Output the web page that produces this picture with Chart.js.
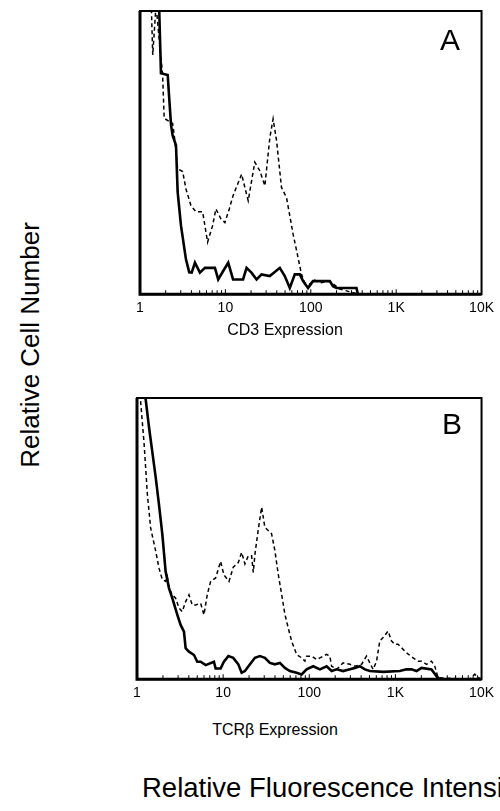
<!DOCTYPE html>
<html>
<head>
<meta charset="utf-8">
<script src="https://cdn.jsdelivr.net/npm/chart.js@4.4.0/dist/chart.umd.min.js"></script>
<style>
  body { margin: 0; width: 500px; height: 811px; background: #fff; position: relative; overflow: hidden;
         font-family: "Liberation Sans", Arial, sans-serif; color: #000; }
  .box { position: absolute; }
  .lbl { position: absolute; white-space: nowrap; }
  .panel { position: absolute; font-size: 30px; line-height: 30px; }
</style>
</head>
<body>

<div class="box" style="left:110px; top:0px; width:390px; height:328px;"><canvas id="chartA"></canvas></div>
<div class="box" style="left:110px; top:385px; width:390px; height:328px;"><canvas id="chartB"></canvas></div>

<div class="panel" style="left:440px; top:25px;">A</div>
<div class="panel" style="left:442px; top:409px;">B</div>

<div class="lbl" style="left:185px; width:200px; text-align:center; top:321px; font-size:16px;">CD3 Expression</div>
<div class="lbl" style="left:175px; width:200px; text-align:center; top:721px; font-size:16px;">TCRβ Expression</div>
<div class="lbl" style="left:-100px; width:260px; text-align:center; top:330px; font-size:26px; line-height:30px; transform:rotate(-90deg);">Relative Cell Number</div>
<div class="lbl" style="left:142px; top:773px; font-size:27.5px; line-height:30px;">Relative Fluorescence Intensity</div>

<script>
// x axis labels (log scale, one per decade)
const tickValues = [1, 10, 100, 1000, 10000];
const tickLabels = ['1', '10', '100', '1K', '10K'];

// Panel A - CD3, solid = control, dashed = stained
const cd3CtrlX = [1.0, 1.5, 1.68, 1.76, 2.11, 2.20, 2.31, 2.41, 2.64, 2.76, 3.02, 3.45, 3.77, 4.03, 4.40,
  5.03, 5.76, 7.54, 8.24, 9.42, 10.8, 12.3, 16.1, 17.7, 20.2, 23.2, 26.5, 33.1, 43.4, 49.6,
  56.8, 65.0, 74.3, 81.3, 92.9, 106, 167, 182, 200, 343, 357, 10000];
const cd3CtrlY = [105, 103, 100, 78.0, 77.4, 69.1, 59.7, 56.1, 52.6, 36.1, 24.2, 12.4, 7.7, 7.6, 11.1,
  7.6, 9.3, 9.3, 5.2, 8.2, 11.1, 5.2, 5.2, 9.3, 7.6, 5.2, 7.0, 6.4, 9.3, 6.4,
  2.2, 7.0, 7.0, 4.6, 2.2, 4.6, 4.6, 2.8, 2.2, 2.2, 0, 0];
const cd3X = [1.0, 1.35, 1.41, 1.54, 1.84, 1.92, 2.41, 2.52, 2.76, 3.16, 3.45, 3.95, 4.52, 5.41, 6.19,
  7.08, 7.74, 8.86, 9.87, 11.1, 12.3, 15.5, 16.9, 18.5, 22.1, 25.3, 29.0, 33.2, 36.2, 39.7,
  45.4, 52.0, 62.1, 71.0, 77.8, 85.1, 97, 111, 130, 167, 218, 370, 10000];
const cd3Y = [105, 104, 84.5, 102, 77.4, 62.1, 60.3, 56.1, 44.3, 43.3, 37.2, 31.3, 29.1, 29.1, 18.4,
  24.2, 30.1, 26.6, 25.3, 30.1, 34.8, 42.4, 37.7, 33.0, 46.6, 43.6, 38.3, 55.4, 61.9, 54.3,
  37.7, 34.1, 21.2, 12.9, 7.0, 4.0, 3.5, 5.0, 4.0, 4.6, 1.8, 0, 0];

// Panel B - TCRb
const tcrCtrlX = [1.0, 1.08, 1.26, 1.38, 1.50, 1.65, 1.80, 1.97, 2.15, 2.35, 2.57, 2.94, 3.21, 3.51, 3.67,
  4.01, 4.59, 5.01, 5.48, 6.27, 7.82, 8.18, 9.35, 10.2, 11.5, 13.1, 15.0, 16.4, 17.9, 20.5,
  23.4, 26.7, 30.5, 34.9, 39.9, 45.6, 52.1, 59.6, 71.3, 81.5, 93.1, 111, 133, 159, 182,
  208, 247, 296, 338, 386, 442, 505, 720, 1125, 1346, 1538, 1758, 2009, 2624, 2999, 3273, 10000];
const tcrCtrlY = [105, 103, 99.6, 89.5, 81.2, 71.7, 62.1, 51.4, 38.3, 32.4, 28.8, 22.9, 19.3, 16.9, 11.0,
  9.8, 8.6, 6.2, 6.2, 5.0, 6.2, 3.8, 3.8, 6.2, 8.2, 7.6, 5.3, 2.3, 2.9, 5.3,
  7.6, 8.2, 7.6, 5.8, 5.3, 5.8, 4.0, 2.9, 2.3, 1.7, 3.5, 4.6, 3.5, 4.6, 2.9,
  3.5, 2.9, 3.5, 4.0, 4.6, 3.5, 2.9, 2.6, 2.9, 3.5, 3.5, 2.9, 4.0, 3.5, 1.1, 0, 0];
const tcrX = [1.0, 1.10, 1.21, 1.32, 1.44, 1.65, 1.80, 1.97, 2.15, 2.25, 2.35, 2.57, 2.81, 3.07, 3.35,
  3.67, 4.01, 4.38, 4.80, 5.48, 5.99, 6.54, 7.16, 8.18, 9.35, 10.2, 11.7, 13.1, 15.0, 16.4,
  17.9, 19.6, 21.4, 22.4, 23.4, 25.5, 28.0, 30.5, 33.4, 36.5, 39.9, 43.6, 47.7, 52.1, 56.9,
  62.3, 71.3, 81.5, 88.9, 93.1, 106, 122, 133, 159, 173, 182, 208, 247, 296, 338,
  405, 462, 505, 551, 604, 659, 720, 823, 901, 984, 1075, 1177, 1346, 1604, 1833,
  2009, 2295, 2624, 2866, 3129, 7300, 8340, 9000, 10000];
const tcrY = [101, 99.0, 83.6, 65.7, 53.8, 45.5, 39.5, 35.4, 34.8, 36.5, 32.4, 30.0, 28.8, 25.3, 24.0,
  27.6, 30.0, 26.4, 26.4, 27.0, 22.9, 30.0, 34.8, 36.0, 41.9, 37.1, 34.8, 39.8, 41.5, 45.1,
  41.0, 43.9, 43.9, 38.0, 44.5, 52.9, 61.2, 54.0, 52.9, 51.7, 45.7, 37.4, 30.3, 23.1, 18.3,
  13.6, 8.8, 7.6, 6.4, 8.2, 8.2, 7.0, 7.6, 8.8, 8.2, 4.6, 3.5, 5.8, 5.3, 4.6,
  5.3, 8.2, 5.8, 3.5, 6.4, 13.6, 14.8, 17.1, 13.6, 12.4, 12.4, 11.2, 9.4, 7.6, 6.4,
  6.4, 5.3, 6.4, 4.6, 0.5, 0, 1.8, 0.7, 0];

Chart.defaults.font.family = '"Liberation Sans", Arial, sans-serif';
Chart.defaults.color = '#000';

function pts(xs, ys) {
  return xs.map((x, i) => ({ x: x, y: ys[i] }));
}

// box around the plot + small tick marks along the bottom
const framePlugin = {
  id: 'frame',
  afterDraw(chart) {
    const ctx = chart.ctx;
    const a = chart.chartArea;
    const x = chart.scales.x;
    ctx.save();
    ctx.strokeStyle = '#000';
    ctx.lineWidth = 1;
    x.ticks.forEach(t => {
      const px = x.getPixelForValue(t.value);
      const len = tickValues.includes(t.value) ? 5 : 4;
      ctx.beginPath();
      ctx.moveTo(px, a.bottom);
      ctx.lineTo(px, a.bottom - len);
      ctx.stroke();
    });
    ctx.lineWidth = 2;
    ctx.strokeRect(a.left, a.top, a.right - a.left, a.bottom - a.top);
    ctx.lineWidth = 3;
    ctx.beginPath();
    ctx.moveTo(a.left, a.top);
    ctx.lineTo(a.left, a.bottom);
    ctx.lineTo(a.right, a.bottom);
    ctx.stroke();
    ctx.restore();
  }
};

function makeChart(id, ctrlX, ctrlY, stX, stY, pad) {
  new Chart(document.getElementById(id), {
    type: 'line',
    data: {
      datasets: [
        {
          label: 'stained',
          data: pts(stX, stY),
          borderColor: '#000',
          borderWidth: 1.5,
          borderDash: [4, 3],
          pointRadius: 0,
          tension: 0
        },
        {
          label: 'control',
          data: pts(ctrlX, ctrlY),
          borderColor: '#000',
          borderWidth: 2.6,
          pointRadius: 0,
          tension: 0
        }
      ]
    },
    options: {
      responsive: true,
      maintainAspectRatio: false,
      animation: false,
      layout: { padding: pad },
      plugins: { legend: { display: false }, tooltip: { enabled: false } },
      scales: {
        x: {
          type: 'logarithmic',
          min: 1,
          max: 10000,
          afterBuildTicks: scale => {
            const vals = [];
            for (let d = 1; d < 10000; d *= 10) {
              for (let k = 1; k < 10; k++) vals.push(k * d);
            }
            vals.push(10000);
            scale.ticks = vals.map(v => ({ value: v }));
          },
          ticks: {
            autoSkip: false,
            maxRotation: 0,
            padding: 6,
            font: { size: 14 },
            callback: v => {
              const i = tickValues.indexOf(v);
              return i >= 0 ? tickLabels[i] : '';
            }
          },
          grid: { display: false, drawTicks: false },
          border: { display: false }
        },
        y: {
          min: 0,
          max: 100,
          display: false
        }
      }
    },
    plugins: [framePlugin]
  });
}

makeChart('chartA', cd3CtrlX, cd3CtrlY, cd3X, cd3Y, { left: 30, right: 18, top: 11, bottom: 5 });
makeChart('chartB', tcrCtrlX, tcrCtrlY, tcrX, tcrY, { left: 27, right: 18, top: 13, bottom: 5 });
</script>
</body>
</html>
